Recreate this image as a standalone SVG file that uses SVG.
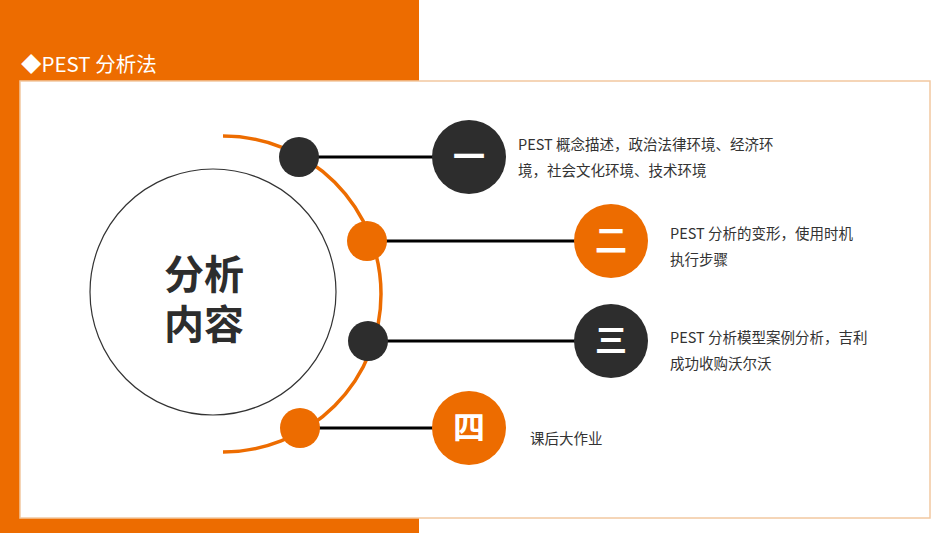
<svg xmlns="http://www.w3.org/2000/svg" width="950" height="535" viewBox="0 0 950 535">
<style>
.cjk{font-family:"Noto Sans CJK SC","Noto Sans",sans-serif}
.item{font-size:14.5px;fill:#333}
.num{font-size:32px;font-weight:bold;fill:#fff;text-anchor:middle}
.dark{fill:#2d2d2d}
.orange{fill:#ED6C00}
.conn{stroke:#000;stroke-width:3;fill:none}
</style>
<rect x="0" y="0" width="950" height="535" fill="#fff"/>
<rect x="0" y="0" width="419" height="533" fill="#ED6C00"/>
<rect x="20" y="81" width="910" height="437" fill="#fff" stroke="#F2C8A0" stroke-width="1.5"/>
<text class="cjk" x="21" y="72" font-size="20.5" fill="#fff">◆PEST 分析法</text>

<g id="center">
<circle cx="213" cy="292" r="123" fill="#fff" stroke="#333" stroke-width="1.2"/>
<text class="cjk" font-size="40" font-weight="bold" fill="#2d2d2d" text-anchor="middle"><tspan x="204" y="289">分析</tspan><tspan x="204" y="339">内容</tspan></text>
</g>

<g id="connectors">
<path d="M223 136 A158 158 0 0 1 223 452" fill="none" stroke="#ED6C00" stroke-width="3.5"/>
<line class="conn" x1="310" y1="157" x2="440" y2="157"/>
<line class="conn" x1="378" y1="241" x2="585" y2="241"/>
<line class="conn" x1="378" y1="341" x2="585" y2="341"/>
<line class="conn" x1="310" y1="428" x2="440" y2="428"/>
</g>

<g id="node1">
<circle class="dark" cx="299" cy="157" r="20"/>
<circle class="dark" cx="469" cy="157" r="37"/>
<text class="cjk num" x="469" y="168">一</text>
<text class="cjk item" x="518" y="150">PEST 概念描述，政治法律环境、经济环</text>
<text class="cjk item" x="518" y="176">境，社会文化环境、技术环境</text>
</g>

<g id="node2">
<circle class="orange" cx="367" cy="241" r="20"/>
<circle class="orange" cx="611" cy="241" r="37"/>
<text class="cjk num" x="611" y="252">二</text>
<text class="cjk item" x="670" y="239">PEST 分析的变形，使用时机</text>
<text class="cjk item" x="670" y="265">执行步骤</text>
</g>

<g id="node3">
<circle class="dark" cx="368" cy="341" r="20"/>
<circle class="dark" cx="611" cy="341" r="37"/>
<text class="cjk num" x="611" y="352">三</text>
<text class="cjk item" x="670" y="343">PEST 分析模型案例分析，吉利</text>
<text class="cjk item" x="670" y="369">成功收购沃尔沃</text>
</g>

<g id="node4">
<circle class="orange" cx="300" cy="428" r="20"/>
<circle class="orange" cx="469" cy="428" r="37"/>
<text class="cjk num" x="469" y="439">四</text>
<text class="cjk item" x="530" y="444">课后大作业</text>
</g>
</svg>
